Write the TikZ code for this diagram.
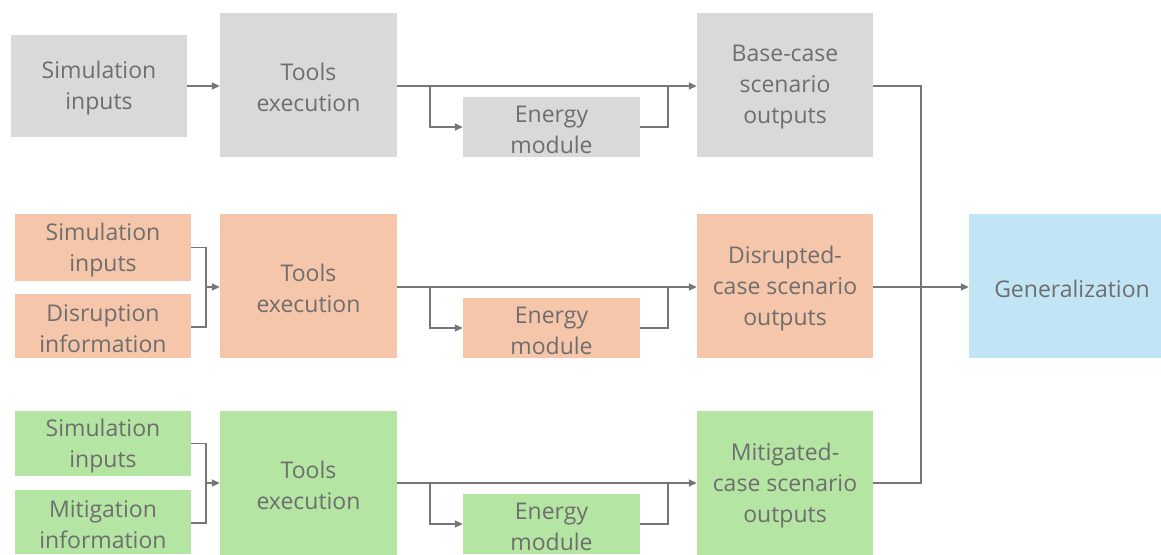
\documentclass[tikz,border=0pt]{standalone}
\usepackage{fontspec}
\setmainfont{Open Sans}
\usetikzlibrary{arrows.meta}
\definecolor{gbox}{HTML}{D9D9D9}
\definecolor{obox}{HTML}{F6C6AA}
\definecolor{lbox}{HTML}{B5E5A2}
\definecolor{bbox}{HTML}{C2E5F5}
\definecolor{txt}{HTML}{6E6E6E}
\definecolor{ln}{HTML}{767676}
\tikzset{
  box/.style={rectangle, inner sep=0pt},
  txtlbl/.style={inner sep=0pt, align=center, text=txt, font=\fontsize{23}{31}\selectfont, yshift=-2.5pt},
  conn/.style={draw=ln, line width=1.6pt},
  arr/.style={conn, -{Triangle[length=8pt,width=7pt]}},
}
\begin{document}
\begin{tikzpicture}[x=1pt,y=-1pt]
\useasboundingbox (0,0) rectangle (1161,554);
% Row 1
\node[box, fill=gbox, minimum width=176pt, minimum height=102pt, label={[txtlbl]center:{Simulation\\inputs}}] (s1) at (99,86) {};
\node[box, fill=gbox, minimum width=177pt, minimum height=144pt, label={[txtlbl]center:{Tools\\execution}}] (t1) at (308.5,85) {};
\node[box, fill=gbox, minimum width=177pt, minimum height=60pt, label={[txtlbl]center:{Energy\\module}}] (e1) at (551.5,127) {};
\node[box, fill=gbox, minimum width=176pt, minimum height=144pt, label={[txtlbl]center:{Base-case\\scenario\\outputs}}] (o1) at (785,85) {};
% Row 2
\node[box, fill=obox, minimum width=176pt, minimum height=67pt, label={[txtlbl]center:{Simulation\\inputs}}] (s2) at (103,247.5) {};
\node[box, fill=obox, minimum width=176pt, minimum height=64pt, label={[txtlbl]center:{Disruption\\information}}] (d2) at (103,326) {};
\node[box, fill=obox, minimum width=177pt, minimum height=144pt, label={[txtlbl]center:{Tools\\execution}}] (t2) at (308.5,286) {};
\node[box, fill=obox, minimum width=177pt, minimum height=60pt, label={[txtlbl]center:{Energy\\module}}] (e2) at (551.5,328) {};
\node[box, fill=obox, minimum width=176pt, minimum height=144pt, label={[txtlbl]center:{Disrupted-\\case scenario\\outputs}}] (o2) at (785,286) {};
% Row 3
\node[box, fill=lbox, minimum width=176pt, minimum height=65pt, label={[txtlbl]center:{Simulation\\inputs}}] (s3) at (103,443.5) {};
\node[box, fill=lbox, minimum width=176pt, minimum height=64pt, label={[txtlbl]center:{Mitigation\\information}}] (m3) at (103,522) {};
\node[box, fill=lbox, minimum width=177pt, minimum height=144pt, label={[txtlbl]center:{Tools\\execution}}] (t3) at (308.5,483) {};
\node[box, fill=lbox, minimum width=177pt, minimum height=60pt, label={[txtlbl]center:{Energy\\module}}] (e3) at (551.5,524) {};
\node[box, fill=lbox, minimum width=176pt, minimum height=144pt, label={[txtlbl]center:{Mitigated-\\case scenario\\outputs}}] (o3) at (785,483) {};
% Generalization
\node[box, fill=bbox, minimum width=206pt, minimum height=144pt, label={[txtlbl]center:{Generalization}}] (g) at (1072,286) {};
% Row 1 connectors
\draw[arr] (s1.east) -- (t1.west |- s1.east);
\draw[arr] (t1.east |- 0,86) -- (o1.west |- 0,86);
\draw[arr] (430,86) |- (e1.west);
\draw[conn] (e1.east) -| (668,86);
% Row 2 connectors
\draw[conn] (s2.east) -| (206,327) -- (d2.east |- 0,327);
\draw[arr] (206,287) -- (t2.west |- 0,287);
\draw[arr] (t2.east |- 0,287) -- (o2.west |- 0,287);
\draw[arr] (430,287) |- (e2.west);
\draw[conn] (e2.east) -| (668,287);
% Row 3 connectors
\draw[conn] (s3.east) -| (206,523) -- (m3.east |- 0,523);
\draw[arr] (206,483) -- (t3.west |- 0,483);
\draw[arr] (t3.east |- 0,483) -- (o3.west |- 0,483);
\draw[arr] (430,483) |- (e3.west);
\draw[conn] (e3.east) -| (668,483);
% Merge
\draw[conn] (o1.east |- 0,86) -| (921,483) -- (o3.east |- 0,483);
\draw[arr] (o2.east |- 0,287) -- (g.west |- 0,287);
\end{tikzpicture}
\end{document}
